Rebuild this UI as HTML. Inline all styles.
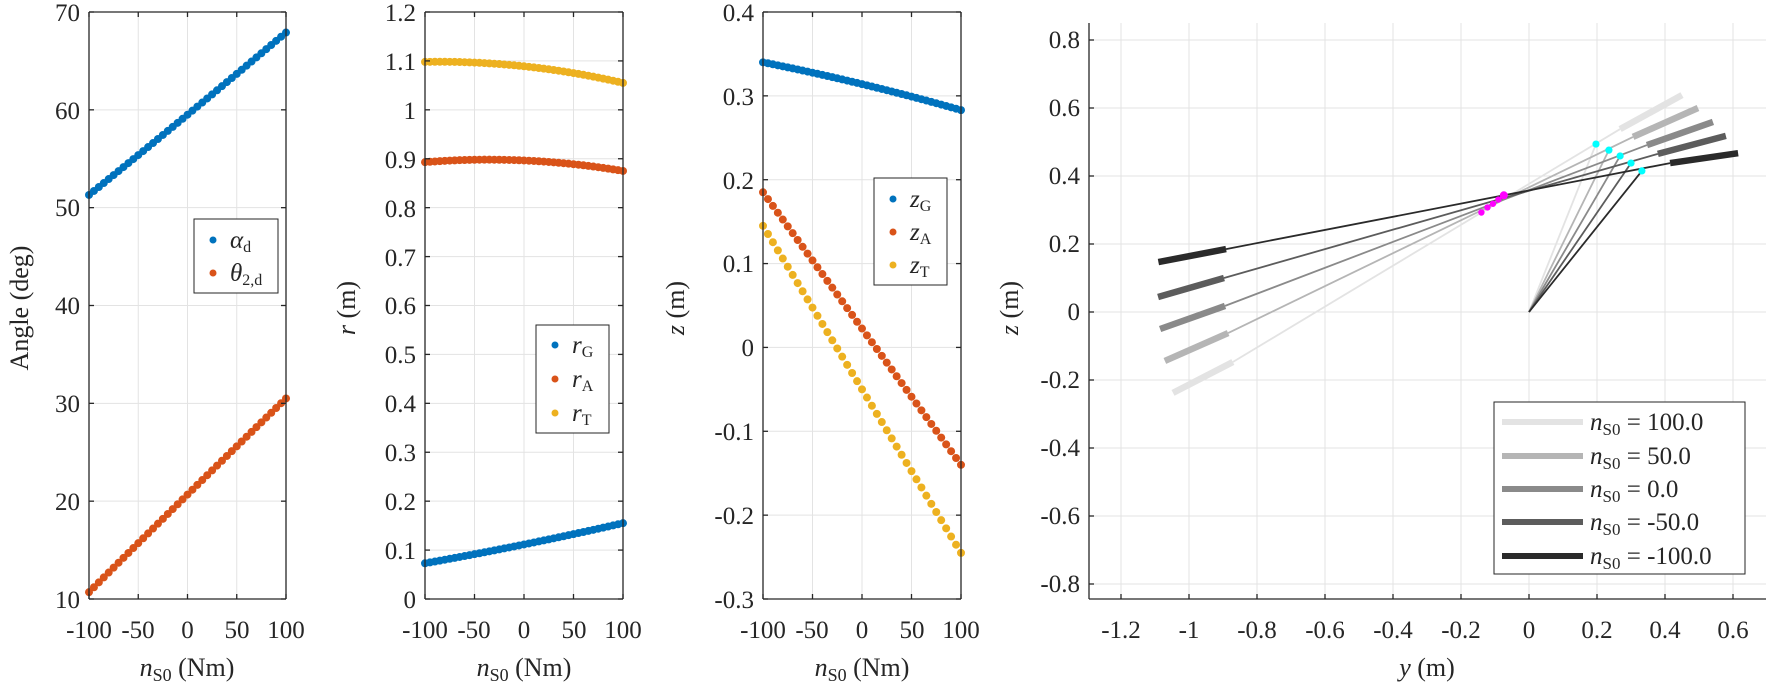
<!DOCTYPE html>
<html><head><meta charset="utf-8"><style>
html,body{margin:0;padding:0;background:#fff;}
svg{display:block;}
svg text{font-family:"Liberation Serif","DejaVu Serif",serif;fill:#262626;}
.t{font-size:25px;}
.tr{text-anchor:end;}
.tm{text-anchor:middle;}
.lg{font-size:25px;}
</style></head><body>
<svg id="s" width="1769" height="686" viewBox="0 0 1769 686" xmlns="http://www.w3.org/2000/svg" font-family="Liberation Serif, DejaVu Serif, serif">
<g id="grid"></g>
<g id="data"></g>
<g id="axes"></g>
<g class="t tr">
<text x="80" y="608">10</text><text x="80" y="510">20</text><text x="80" y="412">30</text><text x="80" y="314">40</text><text x="80" y="216">50</text><text x="80" y="119">60</text><text x="80" y="21">70</text>
</g>
<g class="t tm">
<text x="89" y="638">-100</text><text x="138" y="638">-50</text><text x="187.5" y="638">0</text><text x="237" y="638">50</text><text x="286" y="638">100</text>
</g>
<text class="tm" font-size="26" transform="translate(28,308) rotate(-90)">Angle (deg)</text>
<text class="tm" font-size="26" x="187" y="676"><tspan font-style="italic">n</tspan><tspan font-size="18" dy="5">S0</tspan><tspan dy="-5"> (Nm)</tspan></text>
<g class="t tr">
<text x="416" y="608">0</text><text x="416" y="559">0.1</text><text x="416" y="510">0.2</text><text x="416" y="461">0.3</text><text x="416" y="412">0.4</text><text x="416" y="363">0.5</text><text x="416" y="314">0.6</text><text x="416" y="266">0.7</text><text x="416" y="217">0.8</text><text x="416" y="168">0.9</text><text x="416" y="119">1</text><text x="416" y="70">1.1</text><text x="416" y="21">1.2</text>
</g>
<g class="t tm">
<text x="425" y="638">-100</text><text x="474" y="638">-50</text><text x="524" y="638">0</text><text x="574" y="638">50</text><text x="623" y="638">100</text>
</g>
<text class="tm" font-size="26" transform="translate(355,308) rotate(-90)"><tspan font-style="italic">r</tspan> (m)</text>
<text class="tm" font-size="26" x="524" y="676"><tspan font-style="italic">n</tspan><tspan font-size="18" dy="5">S0</tspan><tspan dy="-5"> (Nm)</tspan></text>
<g class="t tr">
<text x="754" y="608">-0.3</text><text x="754" y="524">-0.2</text><text x="754" y="440">-0.1</text><text x="754" y="356">0</text><text x="754" y="272">0.1</text><text x="754" y="189">0.2</text><text x="754" y="105">0.3</text><text x="754" y="21">0.4</text>
</g>
<g class="t tm">
<text x="763" y="638">-100</text><text x="812" y="638">-50</text><text x="862" y="638">0</text><text x="912" y="638">50</text><text x="961" y="638">100</text>
</g>
<text class="tm" font-size="26" transform="translate(684,308) rotate(-90)"><tspan font-style="italic">z</tspan> (m)</text>
<text class="tm" font-size="26" x="862" y="676"><tspan font-style="italic">n</tspan><tspan font-size="18" dy="5">S0</tspan><tspan dy="-5"> (Nm)</tspan></text>
<g class="t tr" font-size="23">
<text x="1080" y="48">0.8</text><text x="1080" y="116">0.6</text><text x="1080" y="184">0.4</text><text x="1080" y="252">0.2</text><text x="1080" y="320">0</text><text x="1080" y="388">-0.2</text><text x="1080" y="456">-0.4</text><text x="1080" y="524">-0.6</text><text x="1080" y="592">-0.8</text>
</g>
<g class="t tm" font-size="23">
<text x="1121" y="638">-1.2</text><text x="1189" y="638">-1</text><text x="1257" y="638">-0.8</text><text x="1325" y="638">-0.6</text><text x="1393" y="638">-0.4</text><text x="1461" y="638">-0.2</text><text x="1529" y="638">0</text><text x="1597" y="638">0.2</text><text x="1665" y="638">0.4</text><text x="1733" y="638">0.6</text>
</g>
<text class="tm" font-size="26" transform="translate(1018,308) rotate(-90)"><tspan font-style="italic">z</tspan> (m)</text>
<text class="tm" font-size="26" x="1427" y="676"><tspan font-style="italic">y</tspan> (m)</text>
<rect x="194" y="219" width="84" height="74" fill="#fff" stroke="#262626" stroke-width="1"/>
<circle cx="213" cy="240" r="3.5" fill="#0072BD"/><circle cx="213" cy="273" r="3.5" fill="#D95319"/>
<text class="lg" x="230" y="248"><tspan font-style="italic">α</tspan><tspan font-size="16" dy="4">d</tspan></text>
<text class="lg" x="230" y="281"><tspan font-style="italic">θ</tspan><tspan font-size="16" dy="4">2,d</tspan></text>
<rect x="536" y="325" width="73" height="108" fill="#fff" stroke="#262626" stroke-width="1"/>
<circle cx="555" cy="345" r="3.5" fill="#0072BD"/><circle cx="555" cy="379" r="3.5" fill="#D95319"/><circle cx="555" cy="413" r="3.5" fill="#EDB120"/>
<text class="lg" x="572" y="353"><tspan font-style="italic">r</tspan><tspan font-size="16" dy="4">G</tspan></text>
<text class="lg" x="572" y="387"><tspan font-style="italic">r</tspan><tspan font-size="16" dy="4">A</tspan></text>
<text class="lg" x="572" y="421"><tspan font-style="italic">r</tspan><tspan font-size="16" dy="4">T</tspan></text>
<rect x="874" y="178" width="73" height="107" fill="#fff" stroke="#262626" stroke-width="1"/>
<circle cx="893" cy="199" r="3.5" fill="#0072BD"/><circle cx="893" cy="232" r="3.5" fill="#D95319"/><circle cx="893" cy="265" r="3.5" fill="#EDB120"/>
<text class="lg" x="910" y="207"><tspan font-style="italic">z</tspan><tspan font-size="16" dy="4">G</tspan></text>
<text class="lg" x="910" y="240"><tspan font-style="italic">z</tspan><tspan font-size="16" dy="4">A</tspan></text>
<text class="lg" x="910" y="273"><tspan font-style="italic">z</tspan><tspan font-size="16" dy="4">T</tspan></text>
<rect x="1494" y="402" width="251" height="172" fill="#fff" stroke="#262626" stroke-width="1"/>
<g stroke-width="6">
<line x1="1502" y1="422" x2="1583" y2="422" stroke="#e3e3e3"/>
<line x1="1502" y1="456" x2="1583" y2="456" stroke="#b5b5b5"/>
<line x1="1502" y1="489" x2="1583" y2="489" stroke="#8a8a8a"/>
<line x1="1502" y1="522" x2="1583" y2="522" stroke="#5c5c5c"/>
<line x1="1502" y1="556" x2="1583" y2="556" stroke="#2a2a2a"/>
</g>
<g class="lg">
<text x="1590" y="430"><tspan font-style="italic">n</tspan><tspan font-size="17" dy="5">S0</tspan><tspan dy="-5"> = 100.0</tspan></text>
<text x="1590" y="464"><tspan font-style="italic">n</tspan><tspan font-size="17" dy="5">S0</tspan><tspan dy="-5"> = 50.0</tspan></text>
<text x="1590" y="497"><tspan font-style="italic">n</tspan><tspan font-size="17" dy="5">S0</tspan><tspan dy="-5"> = 0.0</tspan></text>
<text x="1590" y="530"><tspan font-style="italic">n</tspan><tspan font-size="17" dy="5">S0</tspan><tspan dy="-5"> = -50.0</tspan></text>
<text x="1590" y="564"><tspan font-style="italic">n</tspan><tspan font-size="17" dy="5">S0</tspan><tspan dy="-5"> = -100.0</tspan></text>
</g>
</svg>
<script>
(function(){
var NS="http://www.w3.org/2000/svg";
var G=document.getElementById('grid'),D=document.getElementById('data'),A=document.getElementById('axes');
function el(p,n,a){var e=document.createElementNS(NS,n);for(var k in a)e.setAttribute(k,a[k]);p.appendChild(e);return e;}
function line(p,x1,y1,x2,y2,c,w){return el(p,'line',{x1:x1,y1:y1,x2:x2,y2:y2,stroke:c,'stroke-width':w});}
var GC='#e3e3e3',AC='#262626';
function panel(x0,x1,yt,yb,xt,yt2,box){
 xt.forEach(function(x){line(G,x,yt,x,yb,GC,1);});
 yt2.forEach(function(y){line(G,x0,y,x1,y,GC,1);});
 line(A,x0,yb,x1,yb,AC,1.3);line(A,x0,yt,x0,yb,AC,1.3);
 if(box){line(A,x0,yt,x1,yt,AC,1.3);line(A,x1,yt,x1,yb,AC,1.3);}
 xt.forEach(function(x){line(A,x,yb,x,yb-5,AC,1.3);if(box)line(A,x,yt,x,yt+5,AC,1.3);});
 yt2.forEach(function(y){line(A,x0,y,x0+5,y,AC,1.3);if(box)line(A,x1,y,x1-5,y,AC,1.3);});
}
function xs(a,b){var r=[];for(var i=0;i<5;i++)r.push(a+(b-a)*i/4);return r;}
var y1=[],y2=[],y3=[],i;
for(i=0;i<=6;i++)y1.push(599-i*587/6);
for(i=0;i<=12;i++)y2.push(599-i*587/12);
for(i=0;i<=7;i++)y3.push(599-i*587/7);
panel(89,286,12,599,xs(89,286),y1,true);
panel(425,623,12,599,xs(425,623),y2,true);
panel(763,961,12,599,xs(763,961),y3,true);
var y4=[],x4=[];
for(i=-4;i<=4;i++)y4.push(312-i*0.2*340);
for(i=-6;i<=3;i++)x4.push(1529+i*0.2*340);
panel(1089,1766,23,599,x4,y4,false);
function dots(x0,x1,f,map,c){var N=40;for(var k=0;k<=N;k++){var t=k/N;el(D,'circle',{cx:x0+(x1-x0)*t,cy:map(f(t)),r:4,fill:c});}}
var m1=function(v){return 599-(v-10)/60*587;};
var m2=function(v){return 599-v/1.2*587;};
var m3=function(v){return 599-(v+0.3)/0.7*587;};
dots(89,286,function(t){return 51.3+16.6*t-0.4*t*(1-t);},m1,'#0072BD');
dots(89,286,function(t){return 10.7+19.8*t+0.3*t*(1-t);},m1,'#D95319');
dots(425,623,function(t){return 0.073+0.082*t-0.01*t*(1-t);},m2,'#0072BD');
dots(425,623,function(t){return 0.893-0.018*t+0.05*t*(1-t);},m2,'#D95319');
dots(425,623,function(t){return 1.098-0.043*t+0.05*t*(1-t);},m2,'#EDB120');
dots(763,961,function(t){return 0.340-0.057*t+0.01*t*(1-t);},m3,'#0072BD');
dots(763,961,function(t){return 0.185-0.325*t;},m3,'#D95319');
dots(763,961,function(t){return 0.145-0.39*t;},m3,'#EDB120');
function P(x,y){return [1529+x*340,312-y*340];}
var S=[
 {c:'#e3e3e3',L:[-1.047,-0.238],Le:[-0.871,-0.147],R:[0.268,0.538],Re:[0.450,0.638],C:[0.197,0.494],mx:-0.140},
 {c:'#b5b5b5',L:[-1.071,-0.144],Le:[-0.885,-0.062],R:[0.306,0.515],Re:[0.497,0.600],C:[0.235,0.476],mx:-0.122},
 {c:'#8a8a8a',L:[-1.085,-0.050],Le:[-0.894,0.018],R:[0.347,0.491],Re:[0.541,0.559],C:[0.268,0.459],mx:-0.106},
 {c:'#5c5c5c',L:[-1.091,0.044],Le:[-0.897,0.100],R:[0.379,0.465],Re:[0.579,0.518],C:[0.300,0.438],mx:-0.090},
 {c:'#2a2a2a',L:[-1.090,0.147],Le:[-0.891,0.185],R:[0.415,0.438],Re:[0.615,0.467],C:[0.332,0.415],mx:-0.074}
];
S.forEach(function(s){
 var a=P(s.L[0],s.L[1]),b=P(s.Le[0],s.Le[1]),c=P(s.R[0],s.R[1]),d=P(s.Re[0],s.Re[1]),o=P(0,0),cc=P(s.C[0],s.C[1]);
 line(D,o[0],o[1],cc[0],cc[1],s.c,1.8);
 line(D,b[0],b[1],c[0],c[1],s.c,1.8);
 line(D,a[0],a[1],b[0],b[1],s.c,6.5);
 line(D,c[0],c[1],d[0],d[1],s.c,6.5);
});
S.forEach(function(s,k){
 var b=s.Le,c=s.R,t=(s.mx-b[0])/(c[0]-b[0]),my=b[1]+t*(c[1]-b[1]);
 var m=P(s.mx,my);el(D,'circle',{cx:m[0],cy:m[1],r:k==4?4:3.2,fill:'#ff00ff'});
 var q=P(s.C[0],s.C[1]);el(D,'circle',{cx:q[0],cy:q[1],r:3.6,fill:'#00ffff'});
});
})();
</script>
</body></html>
